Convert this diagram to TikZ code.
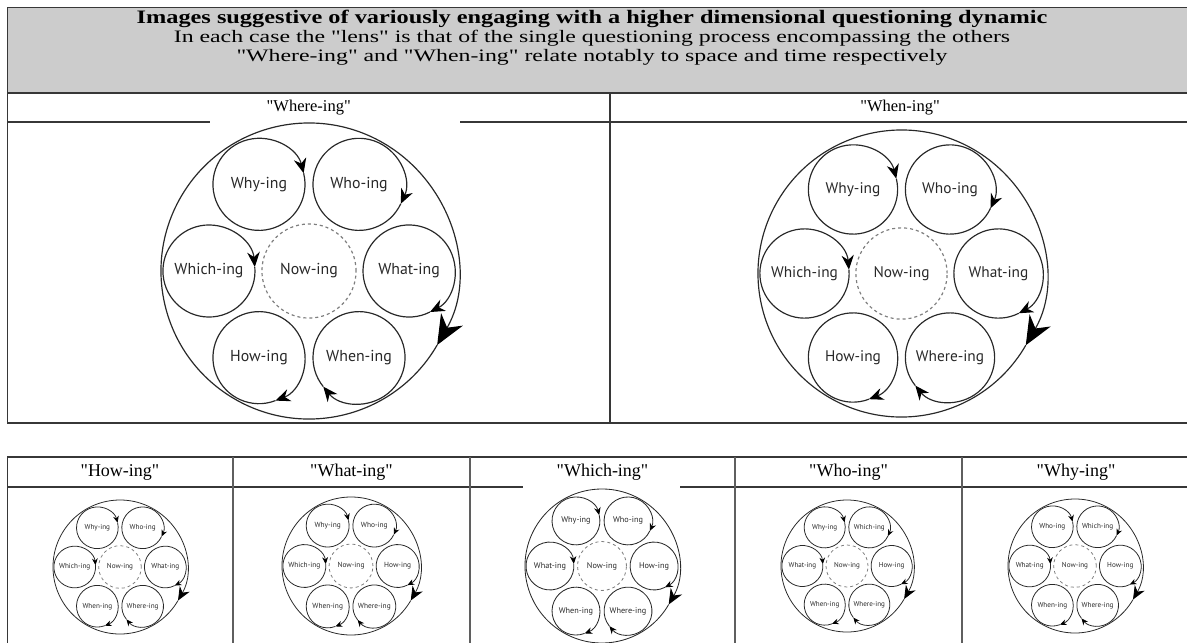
\documentclass[tikz,border=0pt]{standalone}
\usepackage{fontspec}
\setmainfont{Liberation Serif}[Ligatures=TeXOff]
\newfontfamily\wheelfont{PT Sans}
\usetikzlibrary{arrows.meta}

\definecolor{rulegray}{RGB}{55,55,55}
\definecolor{headgray}{RGB}{204,204,204}
\definecolor{inkgray}{RGB}{40,40,40}

\tikzset{
  gridline/.style={draw=rulegray,line width=1.5pt},
  colline/.style={draw=rulegray!80,line width=2.4pt},
  titletext/.style={inner sep=0pt,font=\bfseries\fontsize{19}{21}\selectfont},
  subtext/.style={inner sep=0pt,font=\fontsize{17.5}{19}\selectfont},
  headtext/.style={inner sep=0pt,font=\fontsize{16.5}{18}\selectfont},
  colhead/.style={inner sep=0pt,font=\fontsize{18}{20}\selectfont},
  wheelline/.style={draw=inkgray},
  nowline/.style={draw=inkgray!60,dashed},
  wheeltext/.style={inner sep=0pt,text=inkgray}
}

% #1 name, #2 centre, #3 outer radius, #4..#9 labels (top left, clockwise to left)
\newcommand{\lenswheel}[9]{%
  \begin{scope}[shift={#2},yscale=-1]
    \pgfmathsetmacro\wR{#3}
    \pgfmathsetmacro\wOff{0.676*#3}
    \pgfmathsetmacro\wr{0.311*#3}
    \pgfmathsetmacro\wfs{0.107*#3}
    \pgfmathsetmacro\wlw{0.45+0.005*#3}
    \pgfmathsetmacro\wtip{0.1*#3}
    \pgfmathsetmacro\wtipw{0.085*#3}
    \pgfmathsetmacro\wbig{0.2*#3}
    \pgfmathsetmacro\wbigw{0.17*#3}
    \draw[wheelline,line width=\wlw pt,-{Stealth[length=\wbig pt,width=\wbigw pt,black]}]
      (330:\wR) arc[start angle=330,end angle=-30,radius=\wR];
    \foreach \a/\b/\lbl/\n in {120/14/{#4}/tl,60/-25/{#5}/tr,0/-63/{#6}/r,
                               -60/-141/{#7}/br,-120/-69/{#8}/bl,180/5/{#9}/l}{
      \draw[wheelline,line width=\wlw pt,-{Stealth[length=\wtip pt,width=\wtipw pt,black]}]
        (\a:\wOff) ++(\b+360:\wr) arc[start angle=\b+360,end angle=\b,radius=\wr];
      \node[wheeltext,font=\wheelfont\fontsize{\wfs}{\wfs}\selectfont] (#1-\n) at (\a:\wOff) {\lbl};
    }
    \draw[nowline,line width=\wlw pt] (0,0) circle[radius=0.318*\wR];
    \node[wheeltext,font=\wheelfont\fontsize{\wfs}{\wfs}\selectfont] (#1-now) at (0,0) {Now-ing};
  \end{scope}}

\begin{document}
\begin{tikzpicture}[x=1pt,y=-1pt,line width=.5pt]
\path[use as bounding box] (0,0) rectangle (1187,643);
\clip (0,0) rectangle (1187,643);
% upper table
\fill[headgray] (7.5,7.5) rectangle (1192,93);
\draw[gridline] (1192,7.5) -- (7.5,7.5) -- (7.5,423) -- (1192,423);
\draw[gridline] (7.5,93) -- (1192,93);
\draw[gridline] (7.5,122) -- (1192,122);
\draw[gridline] (610,93) -- (610,423);
\fill[white] (210,119.5) rectangle (460,124.5);
\node[titletext] (title) at (592,18.5) {\scalebox{1.28}[1]{Images suggestive of variously engaging with a higher dimensional questioning dynamic}};
\node[subtext] (lens) at (592,38) {\scalebox{1.36}[1]{In each case the "lens" is that of the single questioning process encompassing the others}};
\node[subtext] (spacetime) at (592,57) {\scalebox{1.36}[1]{"Where-ing" and "When-ing" relate notably to space and time respectively}};
\node[headtext] (where) at (308.75,107.5) {"Where-ing"};
\node[headtext] (when) at (900,107.5) {"When-ing"};
\lenswheel{wherewheel}{(309,271)}{148}{Why-ing}{Who-ing}{What-ing}{When-ing}{How-ing}{Which-ing}
\lenswheel{whenwheel}{(901.5,273.5)}{143.5}{Why-ing}{Who-ing}{What-ing}{Where-ing}{How-ing}{Which-ing}
% lower table
\draw[gridline] (1192,457) -- (7.5,457) -- (7.5,650);
\draw[gridline] (7.5,487) -- (1192,487);
\draw[colline] (233,457) -- (233,650);
\draw[colline] (470,457) -- (470,650);
\draw[colline] (735,457) -- (735,650);
\draw[colline] (962,457) -- (962,650);
\fill[white] (523,484.5) rectangle (680,489.5);
\node[colhead] (how) at (120,472) {"How-ing"};
\node[colhead] (what) at (351.5,472) {"What-ing"};
\node[colhead] (which) at (602.5,472) {"Which-ing"};
\node[colhead] (who) at (848.5,472) {"Who-ing"};
\node[colhead] (why) at (1076,472) {"Why-ing"};
\lenswheel{howwheel}{(120,567)}{67}{Why-ing}{Who-ing}{What-ing}{Where-ing}{When-ing}{Which-ing}
\lenswheel{whatwheel}{(351,566)}{69}{Why-ing}{Who-ing}{How-ing}{Where-ing}{When-ing}{Which-ing}
\lenswheel{whichwheel}{(602,566)}{77}{Why-ing}{Who-ing}{How-ing}{Where-ing}{When-ing}{What-ing}
\lenswheel{whowheel}{(847,566)}{66}{Why-ing}{Which-ing}{How-ing}{Where-ing}{When-ing}{What-ing}
\lenswheel{whywheel}{(1075,566)}{67}{Who-ing}{Which-ing}{How-ing}{Where-ing}{When-ing}{What-ing}
\end{tikzpicture}
\end{document}
